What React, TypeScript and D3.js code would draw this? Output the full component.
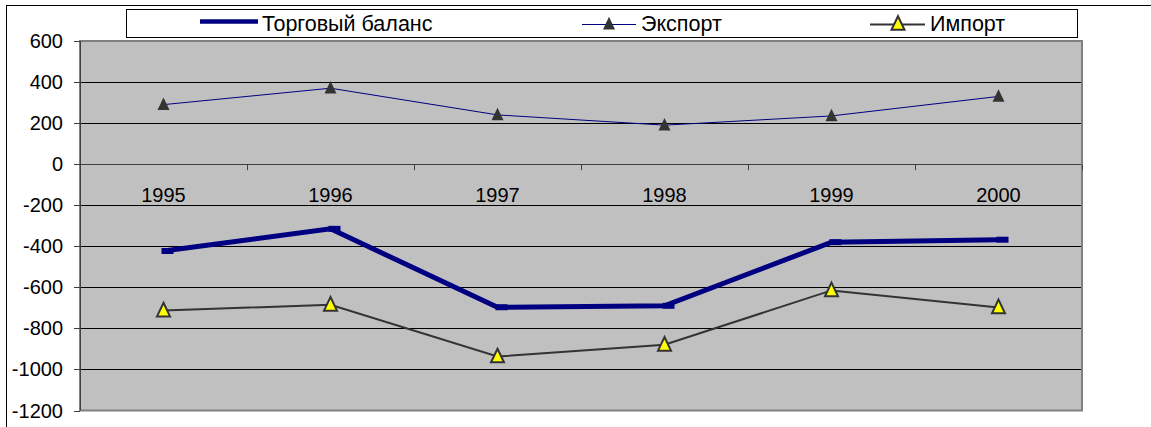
import React from 'react';
import * as d3 from 'd3';

const years = ['1995', '1996', '1997', '1998', '1999', '2000'];
const balance = [-423, -315, -697, -690, -380, -368];
const exportVals = [290, 370, 240, 190, 235, 330];
const importVals = [-713, -685, -937, -880, -615, -698];
const yTicks = [600, 400, 200, 0, -200, -400, -600, -800, -1000, -1200];

const W = 1151;
const H = 427;
const plot = { left: 80, top: 41, right: 1082, bottom: 410.5 };
const FONT = '"Liberation Sans", Arial, sans-serif';

const x = d3.scaleBand<string>().domain(years).range([plot.left, plot.right]).padding(0);
const y = d3.scaleLinear().domain([-1200, 600]).range([plot.bottom, plot.top]);
const cx = (yr: string) => (x(yr) as number) + x.bandwidth() / 2;

const tri = (px: number, py: number, s: number) =>
  `M${px},${py - s * 0.6}L${px + s / 2},${py + s * 0.45}L${px - s / 2},${py + s * 0.45}Z`;

const App: React.FC = () => {
  const line = d3.line<number>().x((_, i) => cx(years[i])).y(d => y(d));
  const y0 = y(0);

  return (
    <svg width={W} height={H} style={{ position: 'absolute', left: 0, top: 0, display: 'block' }} fontFamily={FONT}>
      <rect x={0} y={0} width={W} height={H} fill="#fff" />
      {/* chart area border */}
      <rect x={6.5} y={5.5} width={W + 20} height={H + 20} fill="none" stroke="#000" strokeWidth={1} />

      {/* plot area */}
      <rect x={plot.left} y={plot.top} width={plot.right - plot.left} height={plot.bottom - plot.top}
        fill="#C0C0C0" stroke="#808080" strokeWidth={2} />
      {yTicks.map(t => (
        <g key={t}>
          {t !== 600 && t !== -1200 && (
            <line x1={plot.left} x2={plot.right - 1} y1={Math.round(y(t)) + 0.5} y2={Math.round(y(t)) + 0.5}
              stroke={t === 0 ? '#404040' : '#000'} strokeWidth={1} />
          )}
          <line x1={plot.left - 6} x2={plot.left} y1={Math.round(y(t)) + 0.5} y2={Math.round(y(t)) + 0.5} stroke="#404040" />
          <text x={63} y={y(t) + 7} textAnchor="end" fontSize={20} fill="#000">{t}</text>
        </g>
      ))}
      <line x1={plot.left + 0.5} x2={plot.left + 0.5} y1={plot.top} y2={plot.bottom} stroke="#404040" strokeWidth={1} />

      {/* category ticks on zero axis */}
      {years.slice(1).concat(['end']).map((yr, i) => {
        const tx = Math.round(plot.left + x.bandwidth() * (i + 1)) + 0.5;
        return <line key={yr} x1={tx} x2={tx} y1={y0} y2={y0 + 6} stroke="#404040" />;
      })}
      {years.map(yr => (
        <text key={yr} x={cx(yr)} y={202} textAnchor="middle" fontSize={20} fill="#000">{yr}</text>
      ))}

      {/* Import */}
      <path d={line(importVals) || ''} fill="none" stroke="#333" strokeWidth={2} />
      {importVals.map((v, i) => (
        <path key={i} d={tri(cx(years[i]), y(v), 13)} fill="#FFFF00" stroke="#333" strokeWidth={2} strokeLinejoin="miter" />
      ))}

      {/* Export */}
      <path d={line(exportVals) || ''} fill="none" stroke="#000080" strokeWidth={1} />
      {exportVals.map((v, i) => (
        <path key={i} d={tri(cx(years[i]), y(v), 12)} fill="#333" />
      ))}

      {/* Trade balance */}
      <path d={line(balance) || ''} fill="none" stroke="#000080" strokeWidth={5} strokeLinejoin="miter" />
      {balance.map((v, i) => (
        <rect key={i} x={cx(years[i]) - 2} y={y(v) - 3} width={12} height={6} fill="#000080" />
      ))}

      {/* legend */}
      <rect x={126.5} y={9.5} width={951} height={28} fill="#fff" stroke="#000" strokeWidth={1} />
      <line x1={200} x2={258} y1={21.5} y2={21.5} stroke="#000080" strokeWidth={4.5} />
      <text x={262} y={31} fontSize={21.5} fill="#000">Торговый баланс</text>

      <line x1={582} x2={636} y1={24.5} y2={24.5} stroke="#000080" strokeWidth={1} />
      <path d={tri(609, 24, 12)} fill="#333" />
      <text x={641} y={31} fontSize={21.5} fill="#000">Экспорт</text>

      <line x1={870} x2={925} y1={24.5} y2={24.5} stroke="#333" strokeWidth={2} />
      <path d={tri(898, 24, 13)} fill="#FFFF00" stroke="#333" strokeWidth={2} />
      <text x={930} y={31} fontSize={21.5} fill="#000">Импорт</text>
    </svg>
  );
};

export default App;
